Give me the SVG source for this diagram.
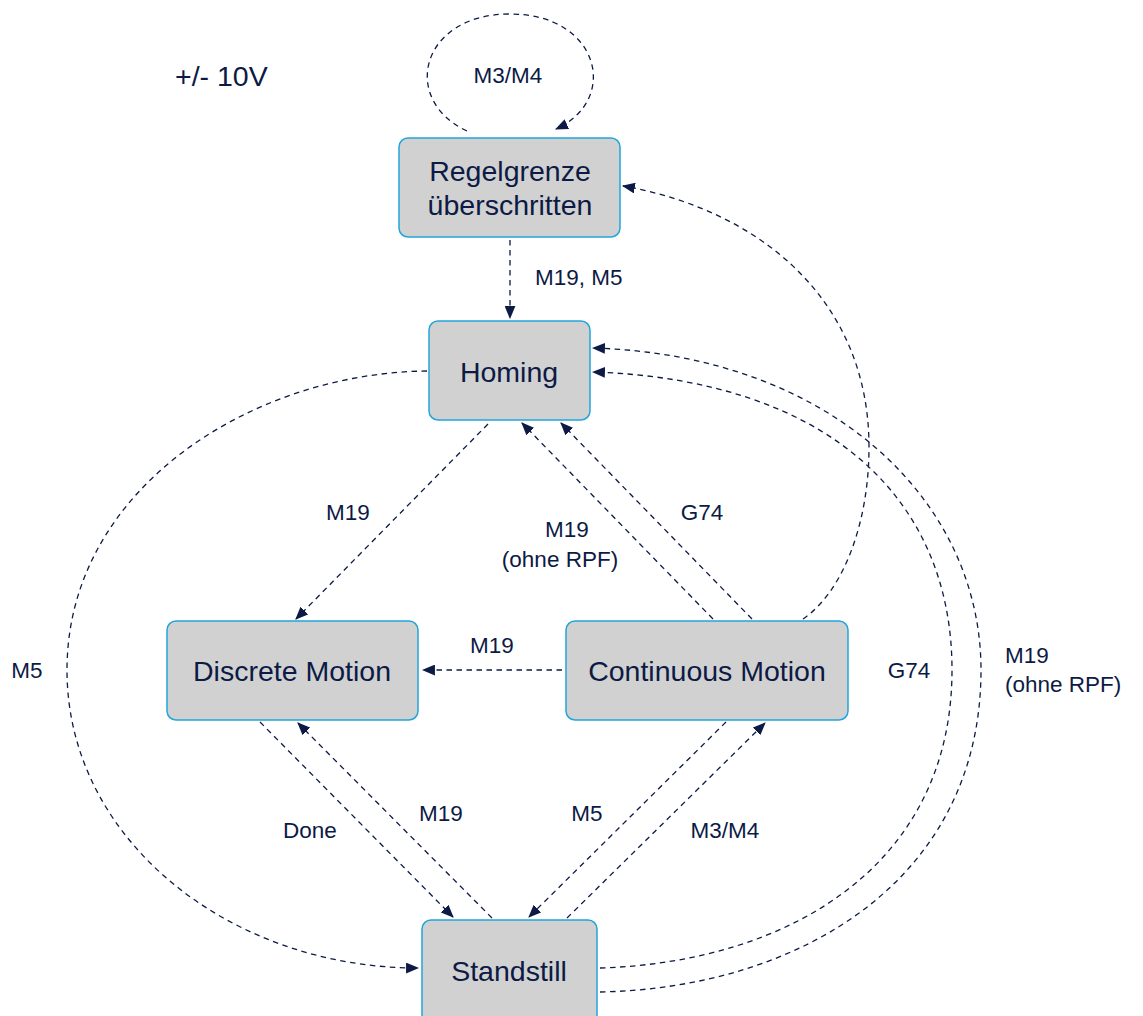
<svg xmlns="http://www.w3.org/2000/svg" width="1143" height="1016" viewBox="0 0 1143 1016">
<defs>
<marker id="ah" viewBox="0 0 12 10" refX="11" refY="5" markerWidth="13" markerHeight="11" markerUnits="userSpaceOnUse" orient="auto">
<path d="M0,0 L12,5 L0,10 z" fill="#0c1a45"/>
</marker>
<style>
.node rect{fill:#d1d1d1;stroke:#22a5dc;stroke-width:1.5}
.nt{font-family:"Liberation Sans",Arial,sans-serif;font-size:28.5px;fill:#0c1a45;text-anchor:middle}
.el{font-family:"Liberation Sans",Arial,sans-serif;font-size:22.5px;fill:#0c1a45}
.c path{fill:none;stroke:#0c1a45;stroke-width:1.3;stroke-dasharray:5.5 4.5;marker-end:url(#ah)}
</style>
</defs>
<rect width="1143" height="1016" fill="#ffffff"/>
<text class="el" x="175" y="86" style="font-size:28.5px">+/- 10V</text>

<g class="c" id="connectors">
<path d="M467,131 C400,100 420,14 510,14 C600,14 620,100 556,129"/>
<path d="M510,240 L510,318"/>
<path d="M488,424 L296,619"/>
<path d="M713,619 L522,423"/>
<path d="M752,619 L561,423"/>
<path d="M803,619 C845,590 869,520 869,447 C869,300 760,210 623,186"/>
<path d="M562,670 L423,670"/>
<path d="M260,722 L453,917"/>
<path d="M492,918 L298,723"/>
<path d="M726,722 L529,917"/>
<path d="M567,918 L765,723"/>
<path d="M427,371 C250,373 67,490 67,670 C67,840 230,968 418,968"/>
<path d="M600,968 C790,962 952,865 952,670 C952,500 830,380 593,372"/>
<path d="M600,992 C800,988 981,880 981,670 C981,500 830,355 593,348"/>
</g>

<g id="edge-labels">
<text class="el" x="508" y="83" text-anchor="middle">M3/M4</text>
<text class="el" x="535" y="285">M19, M5</text>
<text class="el" x="348" y="520" text-anchor="middle">M19</text>
<text class="el" x="567" y="537" text-anchor="middle">M19</text>
<text class="el" x="560" y="567" text-anchor="middle">(ohne RPF)</text>
<text class="el" x="702" y="520" text-anchor="middle">G74</text>
<text class="el" x="492" y="653" text-anchor="middle">M19</text>
<text class="el" x="27" y="678" text-anchor="middle">M5</text>
<text class="el" x="909" y="678" text-anchor="middle">G74</text>
<text class="el" x="1005" y="663">M19</text>
<text class="el" x="1005" y="692">(ohne RPF)</text>
<text class="el" x="310" y="838" text-anchor="middle">Done</text>
<text class="el" x="441" y="821" text-anchor="middle">M19</text>
<text class="el" x="587" y="821" text-anchor="middle">M5</text>
<text class="el" x="725" y="838" text-anchor="middle">M3/M4</text>
</g>

<g class="node" id="regelgrenze">
<rect x="399" y="138" width="221" height="99" rx="9"/>
<text class="nt" x="510" y="181">Regelgrenze</text>
<text class="nt" x="510" y="215">überschritten</text>
</g>
<g class="node" id="homing">
<rect x="429" y="321" width="161" height="99" rx="9"/>
<text class="nt" x="509" y="382">Homing</text>
</g>
<g class="node" id="discrete">
<rect x="167" y="621" width="251" height="99" rx="9"/>
<text class="nt" x="292" y="681">Discrete Motion</text>
</g>
<g class="node" id="continuous">
<rect x="566" y="621" width="282" height="99" rx="9"/>
<text class="nt" x="707" y="681">Continuous Motion</text>
</g>
<g class="node" id="standstill">
<rect x="422" y="920" width="175" height="110" rx="9"/>
<text class="nt" x="509" y="981">Standstill</text>
</g>
</svg>
